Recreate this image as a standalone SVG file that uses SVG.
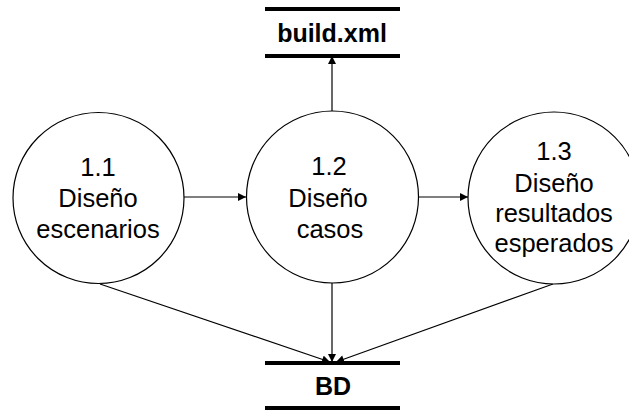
<svg xmlns="http://www.w3.org/2000/svg" width="629" height="410" viewBox="0 0 629 410">
  <style>
    .proc { fill: #fff; stroke: #000; stroke-width: 1.2; }
    .lbl { font-family: "Liberation Sans", Arial, sans-serif; font-size: 25.5px; fill: #000; text-anchor: middle; }
    .store { stroke: #000; stroke-width: 4; }
    .slbl { font-family: "Liberation Sans", Arial, sans-serif; font-size: 25px; font-weight: bold; fill: #000; text-anchor: middle; }
    .flow { stroke: #000; stroke-width: 1.2; fill: none; marker-end: url(#arrow); }
  </style>
  <defs>
    <marker id="arrow" viewBox="0 0 10 10" refX="10" refY="5" markerWidth="9" markerHeight="8" markerUnits="userSpaceOnUse" orient="auto">
      <path d="M0,0 L10,5 L0,10 z" fill="#000"/>
    </marker>
  </defs>

  <rect width="629" height="410" fill="#fff"/>

  <g id="connectors">
    <line class="flow" x1="184" y1="197" x2="246" y2="197"/>
    <line class="flow" x1="419" y1="197" x2="468" y2="197"/>
    <line class="flow" x1="332" y1="111" x2="332" y2="56"/>
    <line class="flow" x1="100" y1="284" x2="330" y2="362"/>
    <line class="flow" x1="332" y1="283" x2="332" y2="362"/>
    <line class="flow" x1="553" y1="284" x2="336" y2="362"/>
  </g>

  <g id="p1_1">
    <circle class="proc" cx="98.5" cy="198" r="85.5"/>
    <text class="lbl" x="98" y="176">1.1</text>
    <text class="lbl" x="98" y="207">Diseño</text>
    <text class="lbl" x="98" y="238">escenarios</text>
  </g>

  <g id="p1_2">
    <circle class="proc" cx="332.5" cy="197" r="86"/>
    <text class="lbl" x="329" y="175">1.2</text>
    <text class="lbl" x="328" y="207">Diseño</text>
    <text class="lbl" x="330" y="238">casos</text>
  </g>

  <g id="p1_3">
    <circle class="proc" cx="554" cy="198" r="86"/>
    <text class="lbl" x="554" y="160">1.3</text>
    <text class="lbl" x="554" y="192">Diseño</text>
    <text class="lbl" x="554" y="222">resultados</text>
    <text class="lbl" x="554" y="252">esperados</text>
  </g>

  <g id="build_xml">
    <line class="store" x1="265" y1="9" x2="400" y2="9"/>
    <line class="store" x1="265" y1="56" x2="400" y2="56"/>
    <text class="slbl" x="332" y="42">build.xml</text>
  </g>

  <g id="bd">
    <line class="store" x1="265" y1="363" x2="400" y2="363"/>
    <line class="store" x1="265" y1="408" x2="400" y2="408"/>
    <text class="slbl" x="333" y="395">BD</text>
  </g>
</svg>
